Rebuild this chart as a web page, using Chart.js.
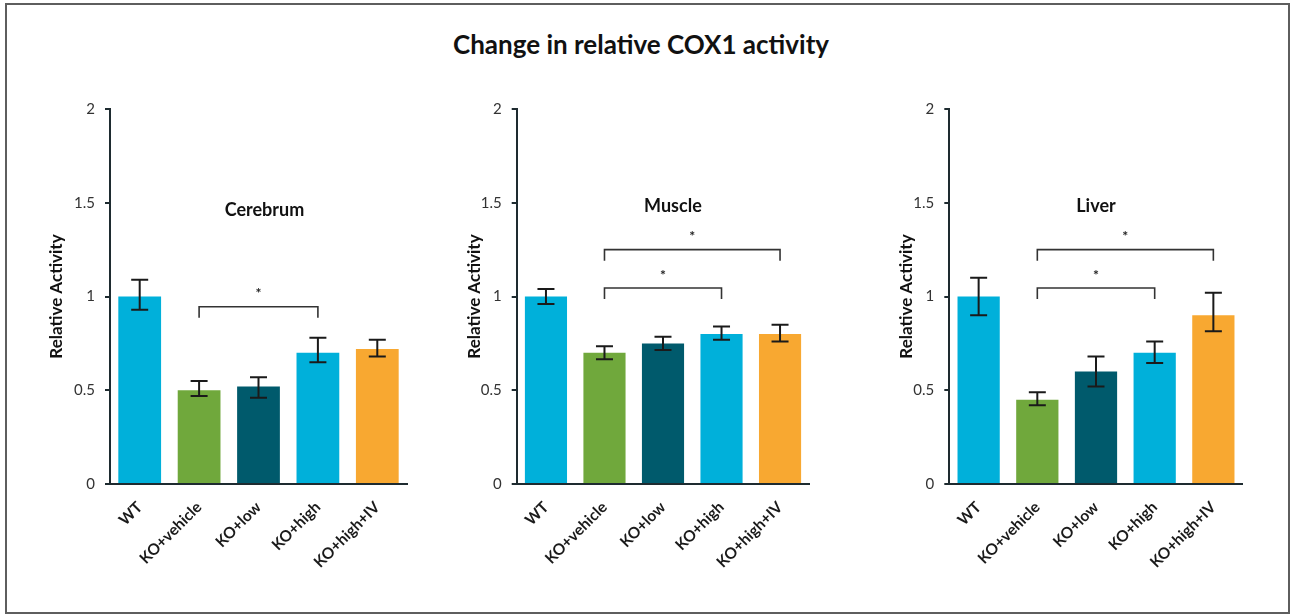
<!DOCTYPE html>
<html>
<head>
<meta charset="utf-8">
<script src="https://cdn.jsdelivr.net/npm/chart.js@4/dist/chart.umd.min.js"></script>
<style>
  html, body { margin: 0; padding: 0; background: #ffffff; }
  body { width: 1291px; height: 614px; position: relative; overflow: hidden; font-family: Lato, "Open Sans", sans-serif; }
  #frame { position: absolute; left: 5px; top: 3px; width: 1285px; height: 611px; box-sizing: border-box; border: 2px solid #5e5e5e; }
  #title { position: absolute; left: 0; top: 28px; width: 1282px; height: 34px; line-height: 34px; text-align: center;
           font: bold 26px Lato, "Open Sans", sans-serif; color: #111111; }
  canvas { position: absolute; top: 90px; }
</style>
</head>
<body>
<div id="frame"></div>
<div id="title">Change in relative COX1 activity</div>
<canvas id="cerebrum" width="400" height="520" style="left:20px;width:400px;height:520px"></canvas>
<canvas id="muscle" width="400" height="520" style="left:430px;width:400px;height:520px"></canvas>
<canvas id="liver" width="400" height="520" style="left:860px;width:400px;height:520px"></canvas>
<script>
// Groups shared by all three tissues
const categories = ['WT', 'KO+vehicle', 'KO+low', 'KO+high', 'KO+high+IV'];
const yTicks = [0, 0.5, 1, 1.5, 2];

// Cerebrum: mean relative activity and error bar extents (above / below the mean)
const cerebrumMeans   = [1.00, 0.50, 0.52, 0.70, 0.72];
const cerebrumErrUp   = [0.09, 0.05, 0.05, 0.08, 0.05];
const cerebrumErrDown = [0.07, 0.03, 0.06, 0.05, 0.04];
// significance brackets: [from group, to group, level]
const cerebrumBrackets = [[1, 3, 0.945]];

// Muscle
const muscleMeans   = [1.00, 0.70, 0.75, 0.80, 0.80];
const muscleErrUp   = [0.04, 0.035, 0.035, 0.04, 0.05];
const muscleErrDown = [0.04, 0.035, 0.035, 0.03, 0.04];
const muscleBrackets = [[1, 3, 1.045], [1, 4, 1.25]];

// Liver
const liverMeans   = [1.00, 0.45, 0.60, 0.70, 0.90];
const liverErrUp   = [0.10, 0.04, 0.08, 0.06, 0.12];
const liverErrDown = [0.10, 0.03, 0.08, 0.055, 0.085];
const liverBrackets = [[1, 3, 1.045], [1, 4, 1.25]];

const barColors = ['#00B0DA', '#70A83C', '#005A6C', '#00B0DA', '#F8A831'];
const axisColor = '#1E2B30';
const FONT = 'Lato, "Open Sans", sans-serif';

// Panel layout (pixel sizes of the axis boxes and label placement)
const panels = [
  { id: 'cerebrum', name: 'Cerebrum', means: cerebrumMeans, up: cerebrumErrUp, down: cerebrumErrDown,
    brackets: cerebrumBrackets, yWidth: 90, padRight: 13, titlePad: 26, nameAt: [2.1, 1.46] },
  { id: 'muscle', name: 'Muscle', means: muscleMeans, up: muscleErrUp, down: muscleErrDown,
    brackets: muscleBrackets, yWidth: 86.7, padRight: 20.7, titlePad: 34.5, nameAt: [2.17, 1.48] },
  { id: 'liver', name: 'Liver', means: liverMeans, up: liverErrUp, down: liverErrDown,
    brackets: liverBrackets, yWidth: 89.3, padRight: 17.3, titlePad: 36, nameAt: [2.0, 1.48] }
];

// Draws error bars, significance brackets and the tissue name on top of the bars
function overlayPlugin(panel) {
  return {
    id: 'overlay_' + panel.id,
    afterDatasetsDraw(chart) {
      const { ctx, scales: { x, y } } = chart;
      const bars = chart.getDatasetMeta(0).data;
      ctx.save();

      // error bars
      ctx.strokeStyle = '#1a1a1a';
      ctx.lineWidth = 2;
      bars.forEach((bar, i) => {
        const m = panel.means[i];
        const yt = y.getPixelForValue(m + panel.up[i]);
        const yb = y.getPixelForValue(m - panel.down[i]);
        const cx = bar.x;
        ctx.beginPath();
        ctx.moveTo(cx, yt); ctx.lineTo(cx, yb);
        ctx.moveTo(cx - 8.5, yt); ctx.lineTo(cx + 8.5, yt);
        ctx.moveTo(cx - 8.5, yb); ctx.lineTo(cx + 8.5, yb);
        ctx.stroke();
      });

      // brackets with asterisk
      ctx.strokeStyle = '#333333';
      ctx.lineWidth = 1.6;
      ctx.fillStyle = '#222222';
      ctx.font = 'bold 14px ' + FONT;
      ctx.textAlign = 'center';
      ctx.textBaseline = 'middle';
      panel.brackets.forEach(([a, b, lvl]) => {
        const x1 = x.getPixelForValue(a);
        const x2 = x.getPixelForValue(b);
        const yy = y.getPixelForValue(lvl);
        ctx.beginPath();
        ctx.moveTo(x1, yy + 11); ctx.lineTo(x1, yy); ctx.lineTo(x2, yy); ctx.lineTo(x2, yy + 11);
        ctx.stroke();
        ctx.fillText('*', (x1 + x2) / 2, yy - 13);
      });

      // tissue name
      ctx.fillStyle = '#111111';
      ctx.font = 'bold 18px ' + FONT;
      ctx.fillText(panel.name, x.getPixelForValue(panel.nameAt[0]), y.getPixelForValue(panel.nameAt[1]));
      ctx.restore();
    }
  };
}

panels.forEach(panel => {
  new Chart(document.getElementById(panel.id), {
    type: 'bar',
    data: {
      labels: categories,
      datasets: [{
        data: panel.means,
        backgroundColor: barColors,
        borderWidth: 0,
        categoryPercentage: 1.0,
        barPercentage: 0.72
      }]
    },
    options: {
      responsive: false,
      animation: false,
      devicePixelRatio: 1,
      layout: { padding: { top: 17, right: panel.padRight, bottom: 0, left: 0 } },
      plugins: { legend: { display: false }, tooltip: { enabled: false }, title: { display: false } },
      scales: {
        x: {
          type: 'category',
          offset: true,
          grid: { display: false },
          border: { display: true, color: axisColor, width: 2 },
          ticks: {
            color: '#1a1a1a',
            font: { family: FONT, size: 15.5, weight: 'bold' },
            minRotation: 45, maxRotation: 45,
            padding: 6,
            autoSkip: false
          },
          afterFit(scale) { scale.height = 126; }
        },
        y: {
          min: 0, max: 2,
          afterBuildTicks(scale) { scale.ticks = yTicks.map(v => ({ value: v })); },
          grid: { display: true, drawOnChartArea: false, drawTicks: true, tickLength: 5, color: axisColor, lineWidth: 2 },
          border: { display: true, color: axisColor, width: 2 },
          ticks: {
            color: '#333333',
            font: { family: FONT, size: 15 },
            padding: 10,
            callback: v => String(v)
          },
          title: {
            display: true,
            text: 'Relative Activity',
            color: '#111111',
            font: { family: FONT, size: 17, weight: 'bold' },
            padding: { top: panel.titlePad, bottom: 0 }
          },
          afterFit(scale) { scale.width = panel.yWidth; }
        }
      }
    },
    plugins: [overlayPlugin(panel)]
  });
});
</script>
</body>
</html>
